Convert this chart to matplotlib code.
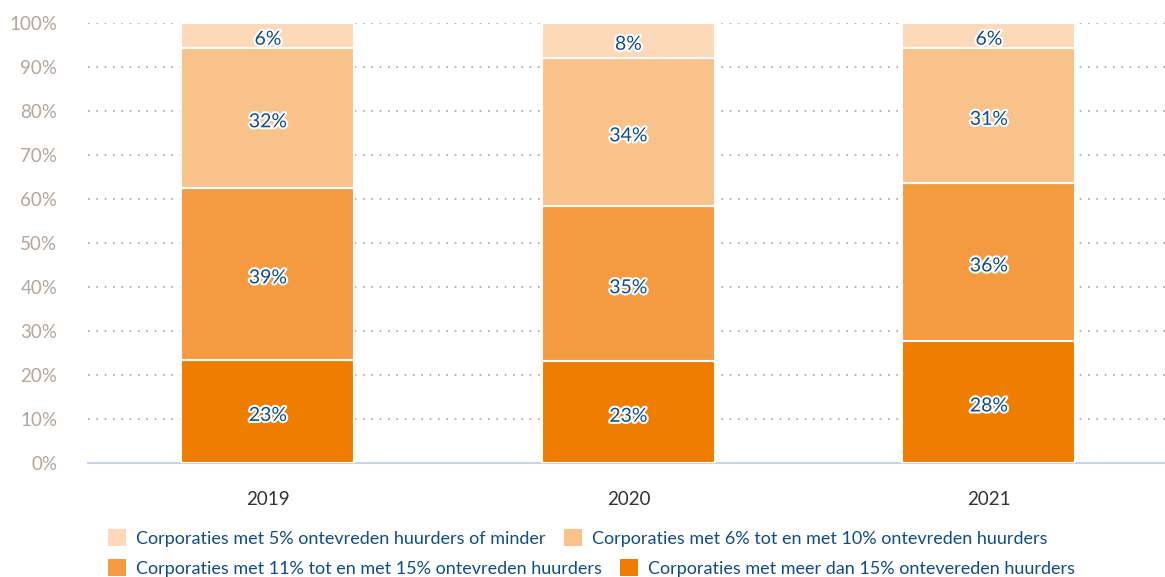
import numpy as np
import matplotlib.pyplot as plt
import matplotlib.patheffects as pe
from matplotlib.patches import Patch

years = ['2019', '2020', '2021']
# shares per year (bottom -> top)
meer_dan_15 = [23.4, 23.0, 27.7]
tussen_11_15 = [39.1, 35.4, 35.9]
tussen_6_10 = [31.8, 33.6, 30.7]
max_5 = [5.7, 8.0, 5.7]
labels_15 = ['23%', '23%', '28%']
labels_11 = ['39%', '35%', '36%']
labels_6 = ['32%', '34%', '31%']
labels_5 = ['6%', '8%', '6%']

names = ['Corporaties met 5% ontevreden huurders of minder',
         'Corporaties met 6% tot en met 10% ontevreden huurders',
         'Corporaties met 11% tot en met 15% ontevreden huurders',
         'Corporaties met meer dan 15% ontevereden huurders']
colors = ['#fdd9b9', '#f9c28a', '#f49b42', '#ef7d00']

plt.rcParams['font.family'] = ['Lato', 'DejaVu Sans']
text_blue = '#0f4c8a'
tick_grey = '#b3a69c'

fig = plt.figure(figsize=(11.65, 5.77), dpi=100)
ax = fig.add_axes([0.0753, 0.198, 0.9283, 0.763])

x = np.arange(len(years))
series = [(meer_dan_15, labels_15, colors[3]),
          (tussen_11_15, labels_11, colors[2]),
          (tussen_6_10, labels_6, colors[1]),
          (max_5, labels_5, colors[0])]
bottom = np.zeros(len(years))
for vals, labs, col in series:
    vals = np.array(vals)
    ax.bar(x, vals, 0.48, bottom=bottom, color=col, edgecolor='white',
           linewidth=1.5, zorder=3)
    for xi, b, v, lab in zip(x, bottom, vals, labs):
        ax.annotate(lab, (xi, b + v / 2), xytext=(0, -3),
                    textcoords='offset points', ha='center', va='center',
                    fontsize=14, color=text_blue, zorder=4,
                    path_effects=[pe.withStroke(linewidth=3, foreground='white')])
    bottom = bottom + vals

ax.set_xlim(-0.5, 2.5)
ax.set_ylim(0, 100)
ax.set_yticks(np.arange(0, 101, 10))
ax.set_yticklabels([f'{v}%' for v in range(0, 101, 10)])
ax.set_xticks(x)
ax.set_xticklabels(years)
ax.tick_params(axis='both', length=0, labelsize=13.5)
ax.tick_params(axis='y', colors=tick_grey, pad=22)
ax.tick_params(axis='x', colors='#333333', pad=20)
for yv in range(10, 101, 10):
    ax.axhline(yv, color='#aca49c', linestyle=(0, (1, 4)), linewidth=1.2, zorder=1)
for s in ['top', 'right', 'left']:
    ax.spines[s].set_visible(False)
ax.spines['bottom'].set_color('#c6d3ea')
ax.spines['bottom'].set_linewidth(1.5)

# legend: two rows, flowing left to right
for row, idx in enumerate([(0, 1), (2, 3)]):
    handles = [Patch(facecolor=colors[i], edgecolor='none') for i in idx]
    leg = fig.legend(handles, [names[i] for i in idx], ncol=2, frameon=False,
                     loc='lower left',
                     bbox_to_anchor=(0.0867, 0.04 - row * 0.052),
                     fontsize=13, handlelength=1.0, handleheight=1.0,
                     handletextpad=0.55, columnspacing=1.0, borderaxespad=0)
    for t in leg.get_texts():
        t.set_color(text_blue)

fig.savefig('out.png', dpi=100)
